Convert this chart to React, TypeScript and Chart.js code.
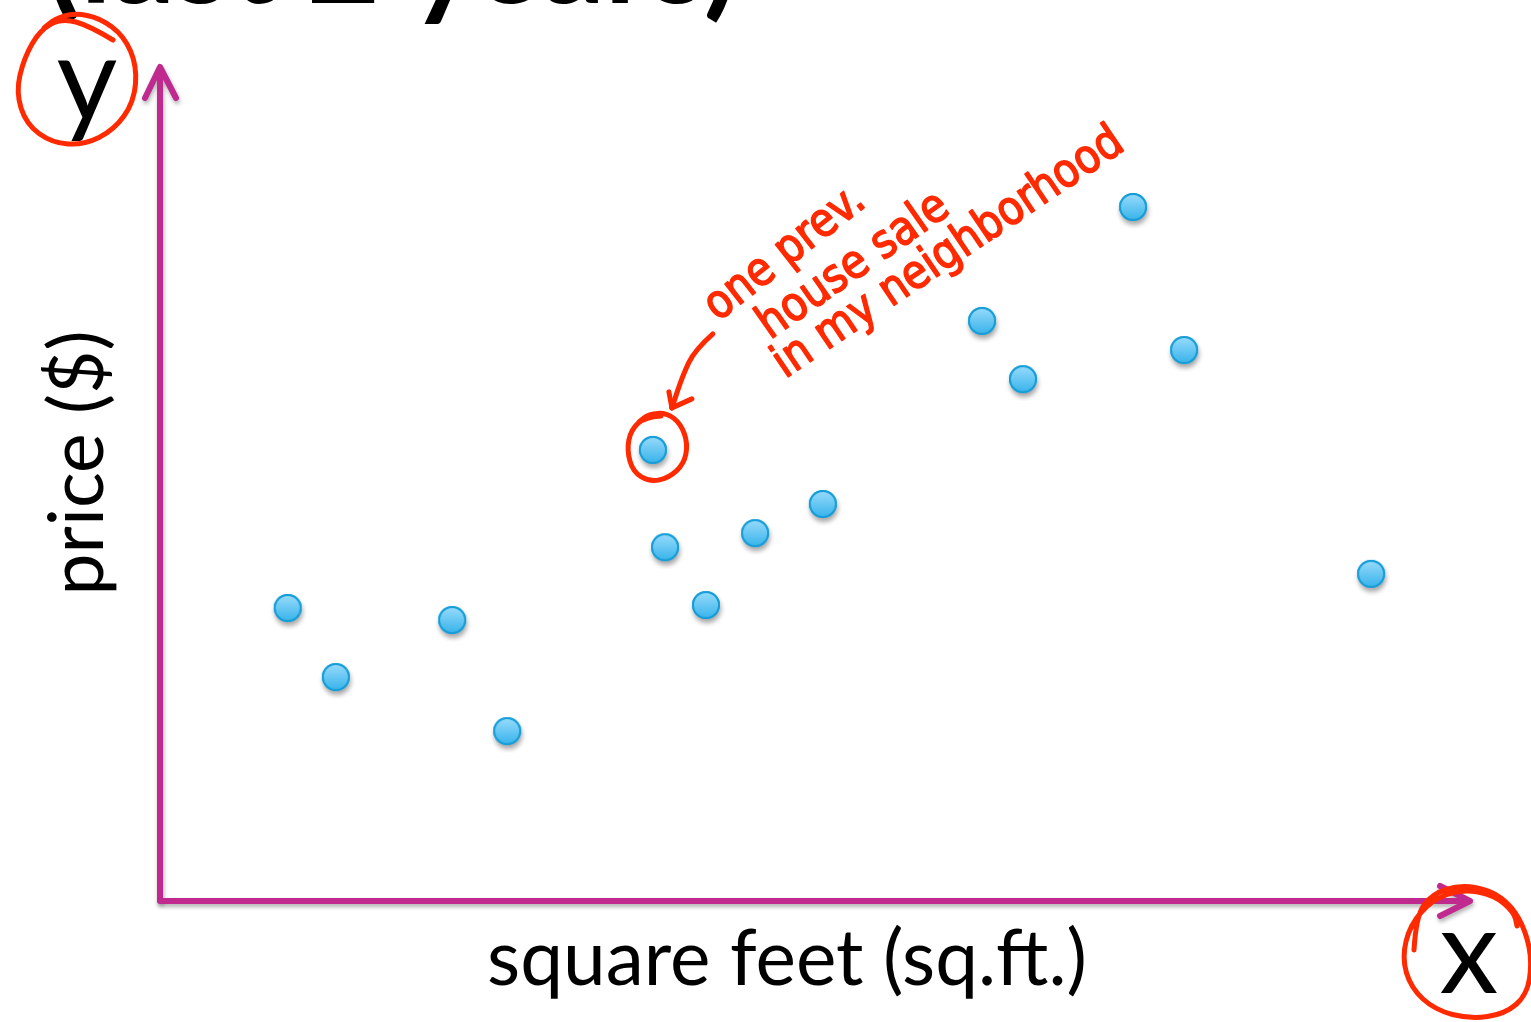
import React, { useEffect, useRef } from "react";
import { Chart, registerables } from "chart.js";

Chart.register(...registerables);

// Previous house sales: living area (sq.ft.) vs sale price ($)
const sqft = [390, 537, 892, 1060, 1505, 1542, 1667, 1817, 2024, 2510, 2635, 2971, 3127, 3698];
const price = [351000, 268000, 336500, 203000, 541000, 424000, 354500, 441000, 476000, 696000, 626000, 833000, 661000, 392000];
const highlighted = 4; // the sale circled in the note

const titleText = "(last 2 years)";
const xAxisLabel = "square feet (sq.ft.)";
const yAxisLabel = "price ($)";
const xVar = "x";
const yVar = "y";
const noteLines = ["one prev.", "house sale", "in my neighborhood"];

const AXIS = "#c02a8e";
const INK = "#ff2a00";
const FONT = "Lato, 'Open Sans', sans-serif";

function makeDot(): HTMLCanvasElement {
  const c = document.createElement("canvas");
  c.width = 44;
  c.height = 44;
  const g = c.getContext("2d")!;
  const cx = 22, cy = 22, r = 14;
  g.save();
  g.shadowColor = "rgba(0,0,0,0.35)";
  g.shadowOffsetY = 4;
  g.shadowOffsetX = 1;
  g.shadowBlur = 5;
  g.beginPath();
  g.arc(cx, cy, r, 0, Math.PI * 2);
  g.fillStyle = "#2aa9e3";
  g.fill();
  g.restore();
  const grad = g.createLinearGradient(0, cy - r, 0, cy + r);
  grad.addColorStop(0, "#9bdcfc");
  grad.addColorStop(1, "#35b2ea");
  g.beginPath();
  g.arc(cx, cy, r - 1, 0, Math.PI * 2);
  g.fillStyle = grad;
  g.fill();
  g.lineWidth = 2;
  g.strokeStyle = "#159dd8";
  g.stroke();
  return c;
}

// smooth freehand stroke through a list of points
function scribble(ctx: CanvasRenderingContext2D, pts: number[][], width: number) {
  ctx.save();
  ctx.strokeStyle = INK;
  ctx.lineWidth = width;
  ctx.lineCap = "round";
  ctx.lineJoin = "round";
  ctx.beginPath();
  ctx.moveTo(pts[0][0], pts[0][1]);
  for (let i = 1; i < pts.length - 1; i++) {
    const mx = (pts[i][0] + pts[i + 1][0]) / 2;
    const my = (pts[i][1] + pts[i + 1][1]) / 2;
    ctx.quadraticCurveTo(pts[i][0], pts[i][1], mx, my);
  }
  const last = pts[pts.length - 1];
  ctx.lineTo(last[0], last[1]);
  ctx.stroke();
  ctx.restore();
}

function fitFont(ctx: CanvasRenderingContext2D, text: string, weight: string, family: string, width: number) {
  ctx.font = `${weight} 100px ${family}`;
  const w = ctx.measureText(text).width;
  return `${weight} ${(100 * width) / w}px ${family}`;
}

const slideDecor = {
  id: "slideDecor",
  beforeDatasetsDraw(chart: Chart) {
    const { ctx, chartArea } = chart;
    const { left, right, top, bottom } = chartArea;
    ctx.save();
    ctx.strokeStyle = AXIS;
    ctx.lineWidth = 6;
    ctx.lineCap = "round";
    ctx.lineJoin = "round";
    ctx.shadowColor = "rgba(0,0,0,0.3)";
    ctx.shadowBlur = 4;
    ctx.shadowOffsetX = 1;
    ctx.shadowOffsetY = 3;
    // y axis with arrow
    ctx.beginPath();
    ctx.moveTo(left, bottom);
    ctx.lineTo(left, top);
    ctx.moveTo(left - 15, top + 30);
    ctx.lineTo(left, top - 1);
    ctx.lineTo(left + 16, top + 30);
    ctx.stroke();
    // x axis with arrow
    ctx.beginPath();
    ctx.moveTo(left, bottom + 1);
    ctx.lineTo(right, bottom + 1);
    ctx.moveTo(right - 30, bottom - 14);
    ctx.lineTo(right, bottom + 1);
    ctx.lineTo(right - 30, bottom + 16);
    ctx.stroke();
    ctx.restore();
  },
  afterDraw(chart: Chart) {
    const { ctx } = chart;
    const meta = chart.getDatasetMeta(0);
    ctx.save();
    ctx.fillStyle = "#000";

    // slide title, cut by the top edge
    ctx.font = fitFont(ctx, titleText, "bold", FONT, 692);
    ctx.textBaseline = "alphabetic";
    ctx.textAlign = "left";
    ctx.fillText(titleText, 46, 3);

    // variable names
    ctx.font = `118px ${FONT}`;
    ctx.textAlign = "center";
    ctx.fillText(yVar, 87, 121);
    ctx.fillText(xVar, 1469, 993);

    // axis titles
    ctx.font = fitFont(ctx, xAxisLabel, "normal", FONT, 600);
    ctx.fillText(xAxisLabel, 787, 985);
    ctx.save();
    ctx.translate(103, 463);
    ctx.rotate(-Math.PI / 2);
    ctx.font = fitFont(ctx, yAxisLabel, "normal", FONT, 265);
    ctx.fillText(yAxisLabel, 0, 0);
    ctx.restore();

    // freehand loops around y, x and one sale
    scribble(ctx, [[113, 40], [90, 26], [62, 18], [40, 30], [24, 58], [16, 92], [26, 124], [52, 143], [84, 145], [114, 130], [134, 102], [137, 66], [124, 36], [100, 18], [74, 13], [55, 19], [44, 28]], 5);
    scribble(ctx, [[1414, 950], [1416, 916], [1432, 894], [1460, 885], [1490, 890], [1512, 906], [1526, 932], [1532, 962], [1527, 995], [1505, 1014], [1470, 1019], [1435, 1010], [1411, 988], [1402, 958], [1410, 925], [1432, 900], [1462, 889], [1494, 895], [1514, 912], [1517, 926]], 5);
    const p = meta.data[highlighted];
    if (p) {
      const cx = p.x, cy = p.y;
      scribble(ctx, [[cx + 8, cy - 34], [cx - 8, cy - 33], [cx - 22, cy - 20], [cx - 26, cy], [cx - 20, cy + 22], [cx - 3, cy + 32], [cx + 16, cy + 28], [cx + 31, cy + 14], [cx + 35, cy - 6], [cx + 28, cy - 26], [cx + 14, cy - 37], [cx - 4, cy - 36], [cx - 14, cy - 28]], 5);
      // arrow pointing at the circled sale
      const tx = cx + 19, ty = cy - 42;
      scribble(ctx, [[cx + 60, cy - 116], [cx + 42, cy - 100], [cx + 30, cy - 75], [tx, ty]], 5);
      scribble(ctx, [[tx - 3, ty - 16], [tx, ty]], 5);
      scribble(ctx, [[tx + 20, ty - 9], [tx, ty]], 5);
    }

    // handwritten note
    ctx.fillStyle = INK;
    ctx.strokeStyle = INK;
    ctx.lineWidth = 1.5;
    ctx.lineJoin = "round";
    ctx.textAlign = "left";
    ctx.font = "47px 'DejaVu Sans Condensed', 'DejaVu Sans', sans-serif";
    const notes: [number, number, number, number][] = [
      [718, 322, -38, 190],
      [770, 340, -35, 222],
      [785, 379, -34, 412],
    ];
    noteLines.forEach((t, i) => {
      const [x, y, a, w] = notes[i];
      ctx.save();
      ctx.translate(x, y);
      ctx.rotate((a * Math.PI) / 180);
      ctx.scale(w / ctx.measureText(t).width, 1);
      ctx.fillText(t, 0, 0);
      ctx.strokeText(t, 0, 0);
      ctx.restore();
    });
    ctx.restore();
  },
};

export default function App() {
  const ref = useRef<HTMLCanvasElement>(null);
  useEffect(() => {
    const canvas = ref.current!;
    const dot = makeDot();
    const chart = new Chart(canvas, {
      type: "scatter",
      data: {
        datasets: [
          {
            data: sqft.map((x, i) => ({ x, y: price[i] })),
            pointStyle: dot,
            pointRadius: 15,
            pointHoverRadius: 15,
          },
        ],
      },
      options: {
        responsive: false,
        animation: false,
        devicePixelRatio: 1,
        layout: { padding: { left: 160, right: 61, top: 68, bottom: 122 } },
        scales: {
          x: { type: "linear", min: 0, max: 4000, display: false },
          y: { type: "linear", min: 0, max: 1000000, display: false },
        },
        plugins: { legend: { display: false }, tooltip: { enabled: false } },
        events: [],
      },
      plugins: [slideDecor],
    });
    return () => chart.destroy();
  }, []);
  return (
    <canvas
      ref={ref}
      width={1531}
      height={1022}
      style={{ position: "absolute", left: 0, top: 0, display: "block", background: "#fff" }}
    />
  );
}
